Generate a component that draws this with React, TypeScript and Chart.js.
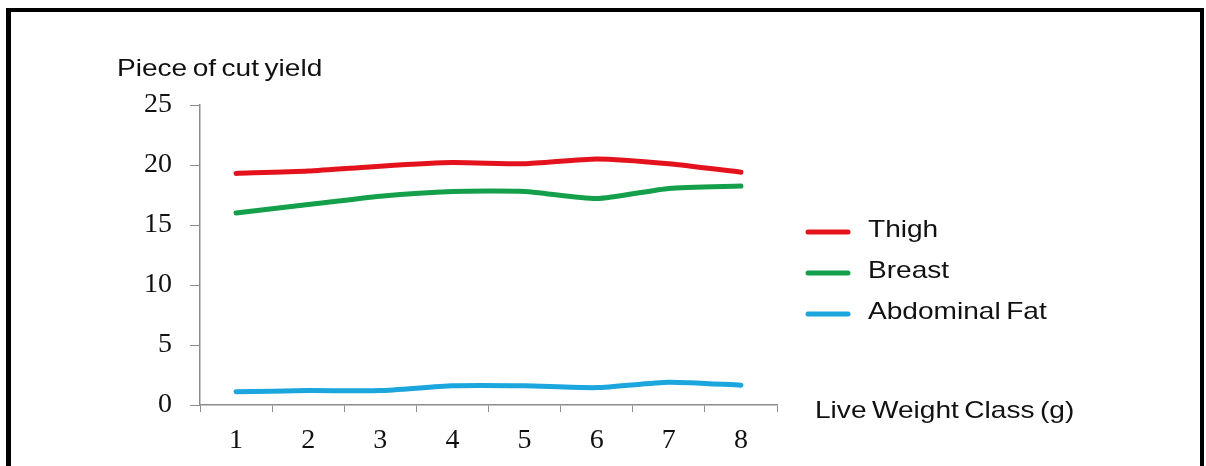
import React, { useEffect, useRef } from "react";
import { Chart, registerables } from "chart.js";

Chart.register(...registerables);

const categories = ["1", "2", "3", "4", "5", "6", "7", "8"];
const thigh = [19.3, 19.5, 19.9, 20.2, 20.1, 20.5, 20.1, 19.4];
const breast = [16.0, 16.7, 17.4, 17.8, 17.8, 17.2, 18.05, 18.25];
const abdominalFat = [1.1, 1.2, 1.2, 1.6, 1.6, 1.45, 1.9, 1.65];
const seriesNames = ["Thigh", "Breast", "Abdominal Fat"];
const seriesColors = ["#e3121c", "#14a04a", "#1ba6de"];
const yTitle = "Piece of cut yield";
const xTitle = "Live Weight Class (g)";

const SANS = "'Liberation Sans', Arial, sans-serif";
const SERIF = "'Liberation Serif', 'Times New Roman', serif";

const overlayPlugin = {
  id: "overlay",
  afterDraw(chart: any) {
    const ctx = chart.ctx as CanvasRenderingContext2D;
    const drawText = (text: string, x: number, y: number) => {
      ctx.save();
      ctx.translate(x, y);
      ctx.scale(1.17, 1);
      ctx.fillStyle = "#111111";
      ctx.font = `24px ${SANS}`;
      (ctx as any).wordSpacing = "-2px";
      ctx.textBaseline = "alphabetic";
      ctx.textAlign = "left";
      ctx.fillText(text, 0, 0);
      ctx.restore();
    };
    drawText(yTitle, 117, 76);
    drawText(xTitle, 815, 418);
    const rows = [229, 270, 311];
    chart.data.datasets.forEach((ds: any, i: number) => {
      const y = rows[i];
      ctx.save();
      ctx.strokeStyle = ds.borderColor;
      ctx.lineWidth = 5;
      ctx.lineCap = "round";
      ctx.beginPath();
      ctx.moveTo(808, y + 3);
      ctx.lineTo(848, y + 3);
      ctx.stroke();
      ctx.restore();
      drawText(ds.label, 868, y + 8);
    });
  },
};

export default function App() {
  const ref = useRef<HTMLCanvasElement>(null);
  useEffect(() => {
    if (!ref.current) return;
    const data = [thigh, breast, abdominalFat];
    const chart = new Chart(ref.current, {
      type: "line",
      data: {
        labels: categories,
        datasets: data.map((d, i) => ({
          label: seriesNames[i],
          data: d,
          borderColor: seriesColors[i],
          backgroundColor: seriesColors[i],
          borderWidth: 5,
          tension: 0.2,
          pointRadius: 0,
          borderCapStyle: "round" as const,
          borderJoinStyle: "round" as const,
        })),
      },
      options: {
        responsive: false,
        animation: false,
        layout: { padding: { left: 0, top: 105, right: 429, bottom: 11 } },
        plugins: { legend: { display: false }, tooltip: { enabled: false } },
        scales: {
          x: {
            offset: true,
            grid: {
              offset: true,
              drawOnChartArea: false,
              tickLength: 7,
              color: "#8c8c8c",
            },
            border: { display: true, color: "#8c8c8c", width: 1.5 },
            ticks: {
              padding: 12,
              color: "#111111",
              font: { family: SERIF, size: 28 },
              maxRotation: 0,
            },
            afterFit(scale: any) {
              scale.height = 50;
            },
          },
          y: {
            min: 0,
            max: 25,
            ticks: {
              stepSize: 5,
              padding: 18,
              color: "#111111",
              font: { family: SERIF, size: 28 },
            },
            grid: {
              drawOnChartArea: false,
              tickLength: 10,
              color: "#8c8c8c",
            },
            border: { display: true, color: "#8c8c8c", width: 1.5 },
            afterFit(scale: any) {
              scale.width = 200;
            },
          },
        },
      },
      plugins: [overlayPlugin],
    });
    return () => chart.destroy();
  }, []);

  return (
    <div
      style={{
        position: "fixed",
        left: 0,
        top: 0,
        width: 1206,
        height: 466,
        background: "#ffffff",
        overflow: "hidden",
      }}
    >
      <canvas ref={ref} width={1206} height={466} style={{ position: "absolute", left: 0, top: 0 }} />
      <div
        style={{
          position: "absolute",
          left: 6,
          top: 8,
          width: 1198,
          height: 520,
          borderTop: "4px solid #000",
          borderLeft: "5px solid #000",
          borderRight: "4px solid #000",
          boxSizing: "border-box",
          pointerEvents: "none",
        }}
      />
    </div>
  );
}
